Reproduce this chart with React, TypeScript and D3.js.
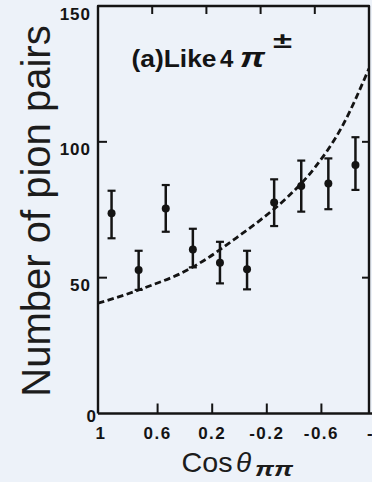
import React from 'react';
import * as d3 from 'd3';

// ---- data ----
const cosBins = [0.9, 0.7, 0.5, 0.3, 0.1, -0.1, -0.3, -0.5, -0.7, -0.9];
const pairCounts = [73.7, 52.8, 75.5, 60.4, 55.5, 53.1, 77.7, 83.7, 84.7, 91.5];
const errHigh = [82.0, 59.9, 84.1, 68.0, 63.2, 59.9, 86.2, 93.1, 93.9, 101.7];
const errLow = [64.5, 45.5, 66.9, 53.8, 47.9, 45.7, 69.0, 74.3, 75.2, 82.3];

const curveCos = [1, 0.8, 0.6, 0.4, 0.2, 0, -0.2, -0.4, -0.6, -0.8, -1];
const curveVals = [40.6, 43.7, 47.3, 51.3, 56.9, 63.9, 71.3, 79.7, 90.5, 105.5, 127];

const xTickValues = [1, 0.6, 0.2, -0.2, -0.6, -1];
const xTickLabels = ['1', '0.6', '0.2', '-0.2', '-0.6', '-1'];
const innerXTicks = [0.6, 0.2, -0.2, -0.6];
const yTickValues = [0, 50, 100, 150];
const yTickLabels = ['0', '50', '100', '150'];
const innerYTicks = [50, 100];

const W = 372;
const H = 482;
const INK = '#141414';
const BG = '#edf2f9';

export default function App() {
  const left = 98;
  const right = 369;
  const top = 6;
  const bottom = 413.5;

  const x = d3.scaleLinear().domain([1, -1]).range([left, right]);
  // the hand-drawn lower axis is lettered slightly to the right of the frame scale
  const xBottom = d3.scaleLinear().domain([1, -1]).range([103, 376]);
  const y = d3.scaleLinear().domain([0, 150]).range([bottom, top]);

  const line = d3
    .line<number>()
    .x((_, i) => x(curveCos[i]))
    .y((d) => y(d))
    .curve(d3.curveMonotoneX);

  const framePath = `M${left},${bottom} L${left},${top} L${right},${top} L${right},${bottom}`;

  return (
    <div style={{ position: 'fixed', left: 0, top: 0, width: W, height: H }}>
      <svg width={W} height={H} viewBox={`0 0 ${W} ${H}`} style={{ display: 'block' }}>
        <defs>
          <clipPath id="plotClip">
            <rect x={left} y={top} width={right - left} height={bottom - top} />
          </clipPath>
        </defs>
        <rect x={0} y={0} width={W} height={H} fill={BG} />

        {/* frame */}
        <path d={framePath} fill="none" stroke={INK} strokeWidth={2.4} strokeLinejoin="round" />
        <line x1={left} x2={W} y1={bottom} y2={bottom} stroke={INK} strokeWidth={2.6} />

        {/* inner ticks */}
        {innerXTicks.map((t) => (
          <g key={'xt' + t}>
            <line x1={x(t)} x2={x(t)} y1={top} y2={top + 8} stroke={INK} strokeWidth={2} />
            <line x1={xBottom(t)} x2={xBottom(t)} y1={bottom} y2={bottom - 10} stroke={INK} strokeWidth={2} />
          </g>
        ))}
        {innerYTicks.map((t) => (
          <g key={'yt' + t}>
            <line x1={left} x2={left + 9} y1={y(t)} y2={y(t)} stroke={INK} strokeWidth={2} />
            <line x1={right - 7} x2={right} y1={y(t)} y2={y(t)} stroke={INK} strokeWidth={2} />
          </g>
        ))}

        {/* tick labels */}
        {xTickValues.map((t, i) => (
          <text
            key={'xl' + t}
            x={i === 0 ? 101 : xBottom(t)}
            y={439}
            textAnchor="middle"
            fontFamily="'Liberation Sans', Arial, sans-serif"
            fontWeight="bold"
            fontSize={17}
            letterSpacing={1.5}
            fill={INK}
          >
            {xTickLabels[i]}
          </text>
        ))}
        {yTickValues.map((t, i) => (
          <text
            key={'yl' + t}
            x={t === 0 ? 97 : 91}
            y={y(t) + (t === 0 ? 3 : 8)}
            dominantBaseline="central"
            textAnchor="end"
            fontFamily="'Liberation Sans', Arial, sans-serif"
            fontWeight="bold"
            fontSize={17}
            letterSpacing={1}
            fill={INK}
          >
            {yTickLabels[i]}
          </text>
        ))}

        {/* fitted curve */}
        <path
          d={line(curveVals) || ''}
          fill="none"
          stroke={INK}
          strokeWidth={2.8}
          strokeDasharray="6.5 3.5"
          clipPath="url(#plotClip)"
        />

        {/* data with error bars */}
        {cosBins.map((c, i) => {
          const cx = x(c);
          return (
            <g key={'p' + i}>
              <line x1={cx} x2={cx} y1={y(errLow[i])} y2={y(errHigh[i])} stroke={INK} strokeWidth={2.5} />
              <line x1={cx - 4} x2={cx + 4} y1={y(errLow[i])} y2={y(errLow[i])} stroke={INK} strokeWidth={2.2} />
              <line x1={cx - 4} x2={cx + 4} y1={y(errHigh[i])} y2={y(errHigh[i])} stroke={INK} strokeWidth={2.2} />
              <circle cx={cx} cy={y(pairCounts[i])} r={4} fill={INK} />
            </g>
          );
        })}

        {/* annotation */}
        <g fill={INK} fontFamily="'Liberation Sans', Arial, sans-serif" fontWeight="bold">
          <text x={131.5} y={67.3} fontSize={24} textLength={85} lengthAdjust="spacingAndGlyphs">
            (a)Like
          </text>
          <text x={220} y={67.3} fontSize={24}>
            4
          </text>
          <text x={240} y={67.3} fontSize={28} fontStyle="italic" textLength={25} lengthAdjust="spacingAndGlyphs">
            π
          </text>
          <text x={273} y={48} fontSize={22} textLength={19} lengthAdjust="spacingAndGlyphs">
            ±
          </text>
        </g>

        {/* axis titles */}
        <text
          transform="translate(50,211) rotate(-90)"
          textAnchor="middle"
          fontFamily="'Liberation Sans', Arial, sans-serif"
          fontSize={40}
          fill="#1c1c1c"
        >
          Number of pion pairs
        </text>
        <g fill="#1c1c1c" fontFamily="'Liberation Sans', Arial, sans-serif">
          <text x={181.5} y={471.7} fontSize={28} textLength={51} lengthAdjust="spacingAndGlyphs">
            Cos
          </text>
          <text x={236} y={471.7} fontSize={28} fontStyle="italic">
            θ
          </text>
          <text
            x={255}
            y={476}
            fontSize={20}
            fontStyle="italic"
            fontWeight="bold"
            textLength={38}
            lengthAdjust="spacingAndGlyphs"
          >
            ππ
          </text>
        </g>
      </svg>
    </div>
  );
}
